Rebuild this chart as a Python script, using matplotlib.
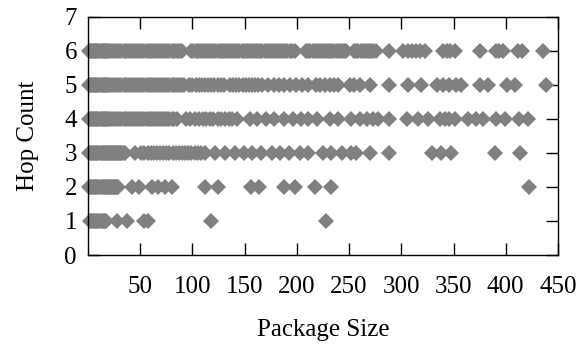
import matplotlib
matplotlib.use('Agg')
import matplotlib.pyplot as plt

hop1 = [2, 3, 4, 5, 6, 7, 8, 9, 10, 11, 12, 13, 14, 15, 16, 17,
        28, 37, 54, 57, 118, 228]
hop2 = [1, 2, 3, 4, 5, 6, 7, 8, 9, 10, 11, 12, 13, 14, 15, 16, 17, 18, 19,
        20, 21, 22, 23, 24, 25, 26, 27, 28, 29,
        42, 49, 61, 67, 74, 80, 112, 124, 156, 164, 188, 198, 217, 233, 422]
hop3 = [1, 2, 3, 4, 5, 6, 7, 8, 9, 10, 11, 12, 13, 14, 15, 16, 17, 18, 19,
        20, 21, 22, 23, 24, 25, 26, 27, 28, 29, 30, 31, 32, 33, 34, 35,
        45, 51, 54, 57, 60, 63, 66, 69, 72, 75, 78, 81, 84, 87, 90, 93, 96,
        99, 102, 105, 108, 112,
        122, 131, 141, 149, 157, 166, 176, 184, 192, 203, 211, 225, 233, 243,
        252, 257, 270, 288, 329, 338, 348, 390, 414]
hop4 = [1, 2, 3, 4, 5, 6, 7, 8, 9, 10, 11, 12, 13, 14, 15, 16, 17, 18, 19,
        20, 22, 24, 26, 28, 30, 32, 34, 36, 38, 40, 42, 44, 46, 48, 50,
        52, 54, 56, 58, 60, 62, 64, 66, 68, 70, 72, 74, 76, 78, 80, 82, 85,
        94, 98, 102, 106, 110, 113, 117, 120, 124, 127, 131, 135, 138, 143,
        155, 162, 170, 178, 188, 196, 204, 211, 219, 232, 239,
        252, 260, 267, 273, 278, 288, 305, 316, 326, 337, 342, 346, 351,
        364, 372, 378, 391, 399, 413, 421]
hop5 = [1, 2, 3, 4, 5, 6, 7, 8, 9, 10, 11, 12, 13, 14, 15, 16, 17, 18, 19,
        20, 22, 24, 26, 28, 30, 32, 34, 36, 38, 40, 42, 44, 46, 48, 50,
        52, 54, 56, 58, 60, 62, 64, 66, 68, 70, 72, 74, 76, 78, 80, 82, 84,
        86, 88, 90, 92,
        97, 100, 103, 106, 109, 112, 115, 118, 121, 124, 127, 130,
        136, 139, 142, 145, 148, 151, 154, 157, 160, 163, 167,
        172, 178, 183, 188, 193, 199, 205, 211, 218, 222, 227, 232, 236, 239,
        251, 255, 260, 270, 288, 306, 319, 334, 340, 346, 352, 357,
        375, 383, 401, 409, 439]
hop6 = [1, 2, 3, 4, 5, 6, 7, 8, 9, 10, 11, 12, 13, 14, 15, 16, 17, 18, 19,
        20, 22, 24, 26, 28, 30, 32, 34, 36, 38, 40, 42, 44, 46, 48, 50,
        52, 54, 56, 58, 60, 62, 64, 66, 68, 70, 72, 74, 76, 78, 80, 82, 84,
        86, 88, 90,
        99, 101, 103, 105, 107, 109, 111, 113, 115, 117, 119, 121, 123, 125,
        127, 129, 131, 133, 135, 137, 139, 141, 143, 145, 147, 149, 151, 153,
        155, 157, 159, 161, 163, 165, 167, 169, 171, 173, 175, 177, 179, 181,
        183, 185, 187, 189, 191, 193, 195, 198,
        209, 211, 213, 215, 217, 219, 221, 223, 225, 227, 229, 231, 233, 235,
        237, 239, 241, 243, 245, 247,
        255, 257, 259, 261, 263, 265, 267, 269, 271, 273, 276,
        288, 302, 306, 310, 314, 318, 323, 340, 344, 347, 351,
        375, 391, 394, 397, 412, 416, 436]

hops = [1, 2, 3, 4, 5, 6]
sizes = [hop1, hop2, hop3, hop4, hop5, hop6]

xticks = [50, 100, 150, 200, 250, 300, 350, 400, 450]
yticks = [0, 1, 2, 3, 4, 5, 6, 7]

plt.rcParams.update({
    'font.family': 'Liberation Serif',
    'font.size': 18,
})

fig = plt.figure(figsize=(5.83, 3.46), dpi=100)
ax = fig.add_axes([0.151, 0.263, 0.806, 0.688])

for h, s in zip(hops, sizes):
    ax.plot(s, [h] * len(s), linestyle='none', marker='D', markersize=8.2,
            color='#808080', markeredgewidth=0, clip_on=False)

ax.set_xlim(0, 450)
ax.set_ylim(0, 7)
ax.set_xticks(xticks)
ax.set_yticks(yticks)
ax.tick_params(direction='in', length=8.5, width=1, top=True, right=True,
               pad=8)
ax.tick_params(axis='x', pad=15)
for sp in ax.spines.values():
    sp.set_linewidth(1)

ax.set_xlabel('Package Size', labelpad=15)
ax.set_ylabel('Hop Count', labelpad=18)

fig.savefig('out.png', dpi=100)
